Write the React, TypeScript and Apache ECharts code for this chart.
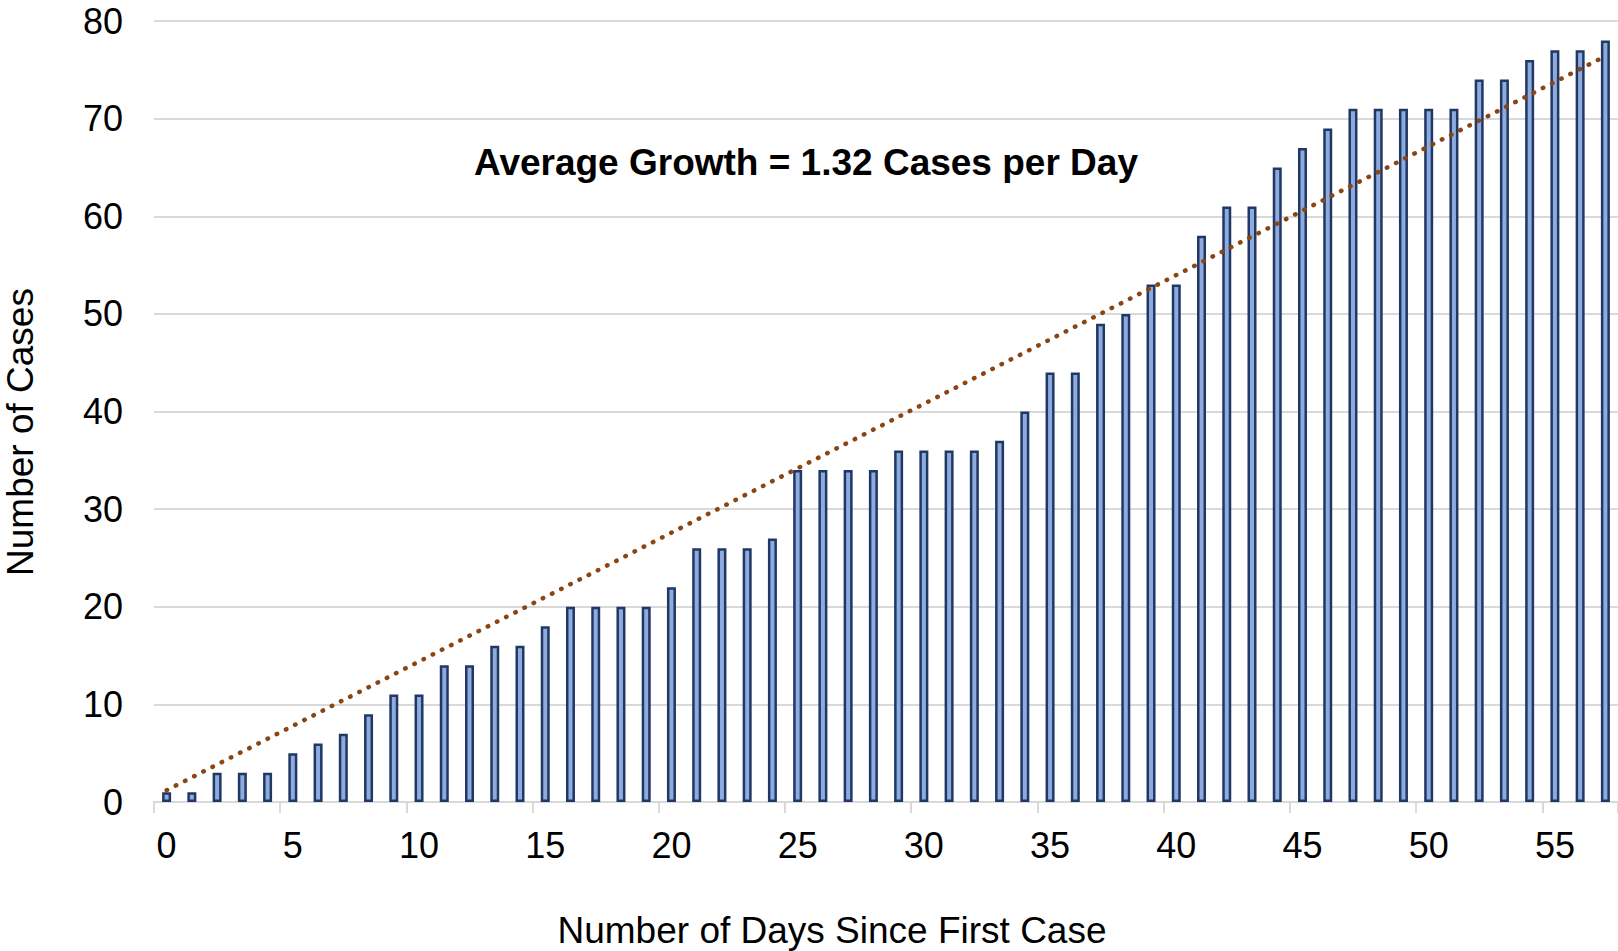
import React, { useEffect, useRef } from "react";
import * as echarts from "echarts";

const days: string[] = Array.from({ length: 58 }, (_, i) => String(i));
const cases: number[] = [
  1, 1, 3, 3, 3, 5, 6, 7, 9, 11,
  11, 14, 14, 16, 16, 18, 20, 20, 20, 20,
  22, 26, 26, 26, 27, 34, 34, 34, 34, 36,
  36, 36, 36, 37, 40, 44, 44, 49, 50, 53,
  53, 58, 61, 61, 65, 67, 69, 71, 71, 71,
  71, 71, 74, 74, 76, 77, 77, 78,
];
const trendStart: [string, number] = ["0", 1.2];
const trendEnd: [string, number] = ["57", 76.4];
const annotation = "Average Growth = 1.32 Cases per Day";
const xTitle = "Number of Days Since First Case";
const yTitle = "Number of Cases";

const FONT = '"Liberation Sans", Arial, sans-serif';

export default function App() {
  const ref = useRef<HTMLDivElement>(null);
  useEffect(() => {
    if (!ref.current) return;
    const chart = echarts.init(ref.current, undefined, { renderer: "svg" });
    chart.setOption({
      animation: false,
      backgroundColor: "#ffffff",
      grid: { left: 154, right: 0, top: 21, bottom: 149, containLabel: false },
      xAxis: {
        type: "category",
        data: days,
        boundaryGap: true,
        axisLine: { show: true, lineStyle: { color: "#d9d9d9", width: 2 } },
        axisTick: { show: true, interval: 4, length: 11, lineStyle: { color: "#d9d9d9", width: 2 } },
        axisLabel: { interval: 4, margin: 25, fontSize: 36, color: "#000", fontFamily: FONT },
        splitLine: { show: false },
      },
      yAxis: {
        type: "value",
        min: 0,
        max: 80,
        interval: 10,
        axisLine: { show: false },
        axisTick: { show: false },
        axisLabel: { margin: 31, fontSize: 36, color: "#000", fontFamily: FONT },
        splitLine: { show: true, lineStyle: { color: "#d9d9d9", width: 2 } },
      },
      series: [
        {
          type: "bar",
          data: cases,
          barWidth: 9,
          itemStyle: { color: "#8faadc", borderColor: "#203864", borderWidth: 2.5 },
          z: 2,
        },
        {
          type: "line",
          data: [trendStart, trendEnd],
          symbol: "none",
          lineStyle: { color: "#8b4513", width: 4.5, type: [0.5, 9.8], cap: "round" },
          z: 3,
        },
      ],
      graphic: [
        {
          type: "text",
          x: 806,
          y: 162,
          style: {
            text: annotation,
            font: `bold 37px ${FONT}`,
            fill: "#000",
            textAlign: "center",
            textVerticalAlign: "middle",
          },
        },
        {
          type: "text",
          x: 832,
          y: 930,
          style: {
            text: xTitle,
            font: `37px ${FONT}`,
            fill: "#000",
            textAlign: "center",
            textVerticalAlign: "middle",
          },
        },
        {
          type: "text",
          x: 20,
          y: 432,
          rotation: Math.PI / 2,
          style: {
            text: yTitle,
            font: `37px ${FONT}`,
            fill: "#000",
            textAlign: "center",
            textVerticalAlign: "middle",
          },
        },
      ],
    });
    return () => chart.dispose();
  }, []);
  return (
    <div
      ref={ref}
      style={{ position: "absolute", left: 0, top: 0, width: 1618, height: 951 }}
    />
  );
}
